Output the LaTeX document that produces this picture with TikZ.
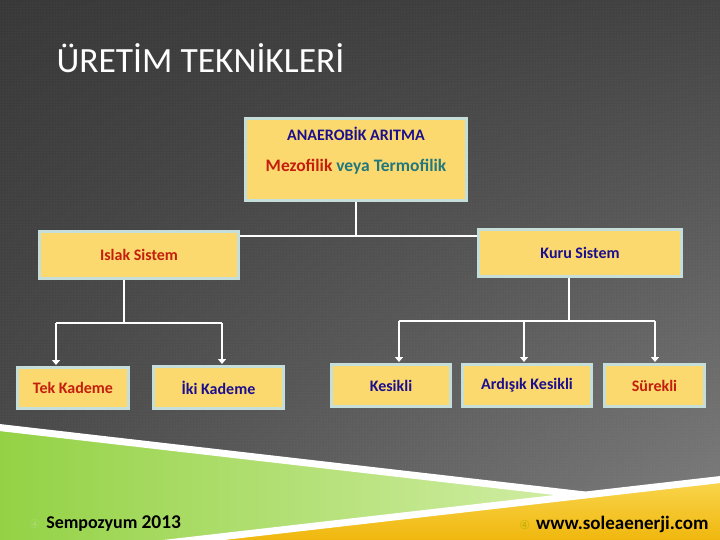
\documentclass[tikz,border=0pt]{standalone}
\usepackage{fontspec}
\setmainfont{Carlito}
\newfontfamily\symfont{DejaVu Sans}
\usepackage{xcolor}
\usepackage{tikz}
\usetikzlibrary{positioning,arrows.meta,patterns,shadings}

\definecolor{boxfill}{HTML}{FBD96E}
\definecolor{boxline}{HTML}{C6DEDA}
\definecolor{txtblue}{HTML}{1C0F8F}
\definecolor{txtred}{HTML}{C41E0E}
\definecolor{txtteal}{HTML}{21777E}
\definecolor{greenA}{HTML}{94D245}
\definecolor{greenB}{HTML}{D2EEA6}
\definecolor{yellowA}{HTML}{F9D54C}
\definecolor{yellowB}{HTML}{F0B70E}

\begin{document}
\begin{tikzpicture}[x=1pt,y=-1pt,
    kutu/.style={draw=boxline,line width=3pt,fill=boxfill,inner sep=0pt,
      font=\bfseries\fontsize{16}{18}\selectfont},
    link/.style={draw=white,line width=2.5pt},
    ok/.style={link,-{Triangle[width=8pt,length=5pt]}}]
  \useasboundingbox (0,0) rectangle (720,540);
  % background
  \shade[upper left=black!78,upper right=black!74,lower left=black!70,
    lower right=black!50] (0,0) rectangle (720,540);
  \fill[pattern=dots,pattern color=white,opacity=0.12] (0,0) rectangle (720,540);
  % bottom bands
  \shade[left color=greenA,right color=greenB] (0,430) -- (580,496) -- (180,540) -- (0,540) -- cycle;
  \shade[top color=yellowA,bottom color=yellowB] (180,540) -- (720,481) -- (720,540) -- cycle;
  \draw[white,line width=7pt] (-5,427) -- (585,495);
  \draw[white,line width=7pt] (150,545) -- (725,479);
  % title
  \node[text=white,font=\fontsize{35.5}{40}\selectfont,anchor=west] (title) at (53,58) {ÜRETİM TEKNİKLERİ};
  % boxes
  \node[kutu,minimum width=221pt,minimum height=82pt] (top) at (356,159.5)
    {\parbox[c][82pt][t]{215pt}{\centering\vspace*{9pt}%
      {\fontsize{16}{18}\selectfont\color{txtblue}ANAEROBİK ARITMA}\\[13pt]
      {\fontsize{17.5}{19}\selectfont\color{txtred}Mezofilik
        \color{txtteal}veya Termofilik}}};
  \node[kutu,text=txtred,minimum width=199pt,minimum height=47pt] (islak) at (139,255) {Islak Sistem};
  \node[kutu,text=txtblue,minimum width=203pt,minimum height=47pt] (kuru) at (580,253) {Kuru Sistem};
  \node[kutu,text=txtred,minimum width=111pt,minimum height=41pt] (tek) at (73,388) {Tek Kademe};
  \node[kutu,text=txtblue,minimum width=130pt,minimum height=42pt] (iki) at (218.5,387.5) {İki Kademe};
  \node[kutu,text=txtblue,minimum width=119pt,minimum height=42pt] (kesikli) at (391,385.5) {Kesikli};
  \node[kutu,text=txtblue,minimum width=129pt,minimum height=42pt] (ardisik) at (527,385.5) {Ardışık Kesikli};
  \node[kutu,text=txtred,minimum width=100pt,minimum height=42pt] (surekli) at (654.5,385.5) {Sürekli};
  % connectors
  \coordinate (j0) at (356,236);
  \coordinate (j1) at (124,323);
  \coordinate (j2) at (569,321);
  \draw[link] (top.south) -- (j0);
  \draw[link] (islak.east |- j0) -- (kuru.west |- j0);
  \draw[link] (islak.south -| j1) -- (j1);
  \draw[link] (56,323) -- (222,323);
  \draw[ok] (56,323) -- (56,365);
  \draw[ok] (222,323) -- (222,364);
  \draw[link] (kuru.south -| j2) -- (j2);
  \draw[link] (399,321) -- (655,321);
  \draw[ok] (399,321) -- (399,362);
  \draw[ok] (524,321) -- (524,362);
  \draw[ok] (655,321) -- (655,362);
  % footer
  \node[anchor=west,font=\bfseries\fontsize{18}{20}\selectfont] (sempo) at (26,524)
    {{\symfont\mdseries\fontsize{12}{14}\selectfont\color{greenA!80!white}④}\hspace{6pt}Sempozyum {\fontsize{19.5}{20}\selectfont 2013}};
  \node[anchor=east,font=\bfseries\fontsize{19}{20}\selectfont] (web) at (712,524)
    {{\symfont\mdseries\fontsize{12}{14}\selectfont\color{olive!60!yellow}④}\hspace{6pt}www.soleaenerji.com};
\end{tikzpicture}
\end{document}
